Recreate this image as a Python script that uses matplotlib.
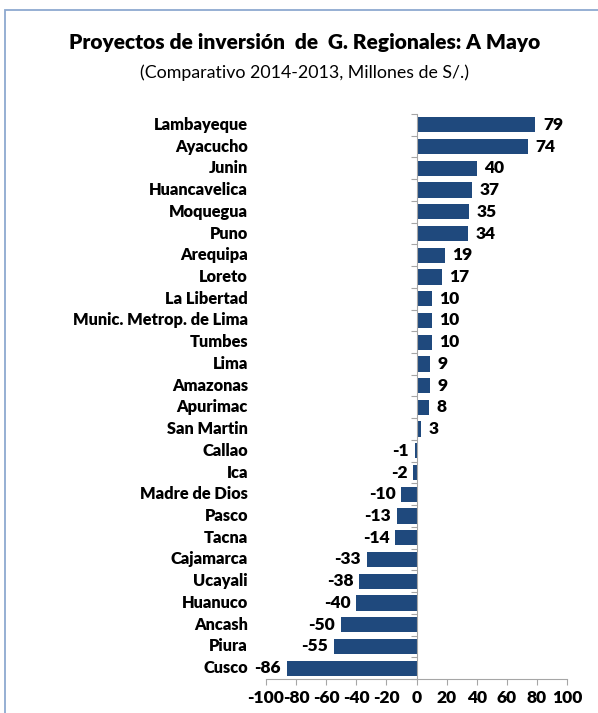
import numpy as np
import matplotlib
matplotlib.use("Agg")
import matplotlib.pyplot as plt
from matplotlib.patches import Rectangle
from matplotlib.transforms import blended_transform_factory

regions = ["Lambayeque", "Ayacucho", "Junin", "Huancavelica", "Moquegua", "Puno",
           "Arequipa", "Loreto", "La Libertad", "Munic. Metrop. de Lima", "Tumbes",
           "Lima", "Amazonas", "Apurimac", "San Martin", "Callao", "Ica",
           "Madre de Dios", "Pasco", "Tacna", "Cajamarca", "Ucayali", "Huanuco",
           "Ancash", "Piura", "Cusco"]
values = [79, 74, 40, 37, 35, 34, 19, 17, 10, 10, 10, 9, 9, 8, 3,
          -1, -2, -10, -13, -14, -33, -38, -40, -50, -55, -86]
xticks = [-100, -80, -60, -40, -20, 0, 20, 40, 60, 80, 100]

BAR = "#1F497D"
GRID = "#A6A6A6"
plt.rcParams["font.family"] = ["Lato", "DejaVu Sans"]

fig = plt.figure(figsize=(5.98, 7.13), dpi=100)
W, H = 598, 713
fig.patches.append(Rectangle((5 / W, -0.1), 1.2, (H - 10) / H + 0.1, transform=fig.transFigure,
                             fill=False, edgecolor="#8DA9D0", linewidth=1.3))

ax = fig.add_axes([266 / W, (713 - 679) / H, 301 / W, (679 - 114) / H])
y = np.arange(len(regions))
ax.barh(y, values, height=0.7, color=BAR)
ax.set_ylim(len(regions) - 0.5, -0.5)
ax.set_xlim(-100, 100)

for s in ["top", "right"]:
    ax.spines[s].set_visible(False)
ax.spines["left"].set_position(("data", 0))
ax.spines["left"].set_color(GRID)
ax.spines["bottom"].set_color(GRID)
ax.set_yticks(np.arange(len(regions) + 1) - 0.5)
ax.set_yticklabels([])
ax.tick_params(axis="y", direction="out", length=4, color=GRID)
ax.set_xticks(xticks)
ax.set_xticklabels([str(t) for t in xticks], fontsize=12.5, fontweight="heavy")
ax.tick_params(axis="x", direction="out", length=4, color=GRID, pad=4)

tr = blended_transform_factory(ax.transAxes, ax.transData)
for yi, name in zip(y, regions):
    ax.text(-0.06, yi, name, transform=tr, ha="right", va="center",
            fontsize=11.8, fontweight="heavy")

for yi, v in zip(y, values):
    if v >= 0:
        ax.text(v + 5, yi, str(v), ha="left", va="center", fontsize=12.5, fontweight="heavy")
    else:
        ax.text(v - 4, yi, str(v), ha="right", va="center", fontsize=12.5, fontweight="heavy")

fig.text(305 / W, 1 - 42 / H, "Proyectos de inversión  de  G. Regionales: A Mayo",
         ha="center", va="center", fontsize=15, fontweight="heavy")
fig.text(305 / W, 1 - 73 / H, "(Comparativo 2014-2013, Millones de S/.)",
         ha="center", va="center", fontsize=12.8)

fig.savefig("out.png", dpi=100)
